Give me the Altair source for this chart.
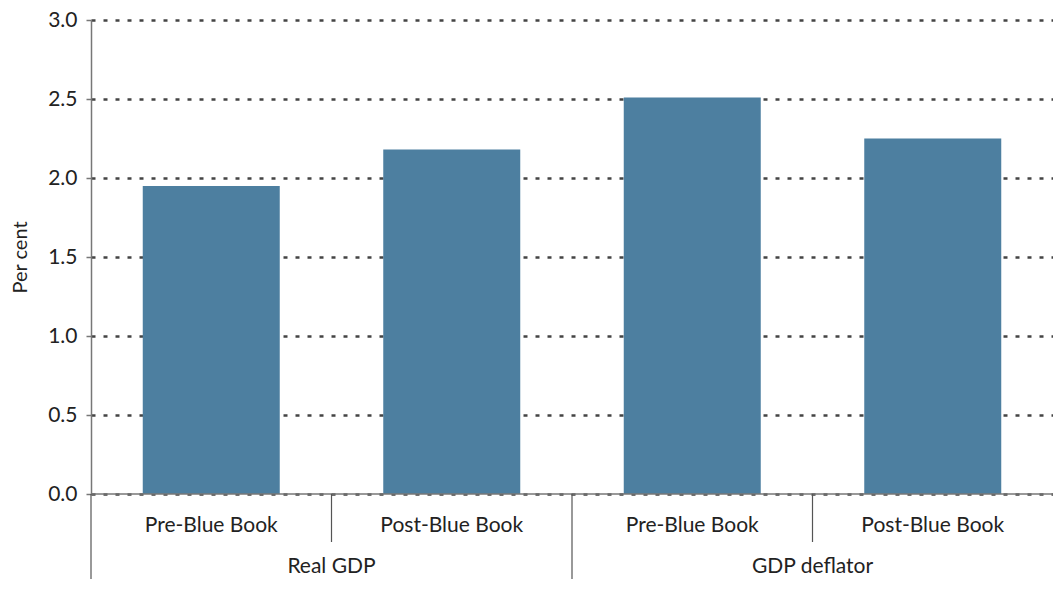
import altair as alt
import pandas as pd

groups = ["Real GDP", "Real GDP", "GDP deflator", "GDP deflator"]
subs = ["Pre-Blue Book", "Post-Blue Book", "Pre-Blue Book", "Post-Blue Book"]
values = [1.95, 2.18, 2.51, 2.25]

group_names = ["Real GDP", "GDP deflator"]
y_ticks = [0.0, 0.5, 1.0, 1.5, 2.0, 2.5, 3.0]

bars_df = pd.DataFrame({
    "group": groups,
    "sub": subs,
    "value": values,
    "pos": [i + 0.5 for i in range(len(values))],
})
group_df = pd.DataFrame({
    "group": group_names,
    "pos": [1.0, 3.0],
})
# boundaries between categories: 0,2 = group boundaries (long), 1,3 = sub boundaries (short)
long_sep = pd.DataFrame({"pos": [0.0, 2.0]})
short_sep = pd.DataFrame({"pos": [1.0, 3.0]})
base_df = pd.DataFrame({"a": [0.0], "b": [4.0], "y": [0.0]})

W, H = 962, 474
BOTTOM = 85
FONT = "Lato"
COLOR = "#4d7fa0"

xscale = alt.Scale(domain=[0, 4], nice=False, zero=False, padding=0)
yscale = alt.Scale(domain=[0, 3], nice=False)

bars = alt.Chart(bars_df).mark_bar(size=137, color=COLOR).encode(
    x=alt.X("pos:Q", scale=xscale, axis=None),
    y=alt.Y(
        "value:Q",
        scale=yscale,
        axis=alt.Axis(
            values=y_ticks,
            format=".1f",
            title="Per cent",
            titleFont=FONT,
            titleFontSize=20,
            titleFontWeight="normal",
            titleColor="#222",
            titleAngle=270,
            titleX=-71,
            titleY=237,
            titleAlign="center",
            titleBaseline="middle",
            labelFont=FONT,
            labelFontSize=21,
            labelColor="#222",
            labelPadding=9,
            tickSize=5,
            tickColor="#777",
            tickWidth=1.5,
            domainColor="#777",
            domainWidth=1.5,
            grid=True,
            gridColor="#444",
            gridDash=[4, 8],
            gridWidth=2.5,
        ),
    ),
)

baseline = alt.Chart(base_df).mark_rule(color="#777", strokeWidth=1.5).encode(
    x=alt.X("a:Q", scale=xscale), x2="b:Q", y=alt.Y("y:Q", scale=yscale)
)

long_rules = alt.Chart(long_sep).mark_rule(color="#555", strokeWidth=1.2).encode(
    x=alt.X("pos:Q", scale=xscale), y=alt.value(H), y2=alt.value(H + BOTTOM)
)
short_rules = alt.Chart(short_sep).mark_rule(color="#555", strokeWidth=1.2).encode(
    x=alt.X("pos:Q", scale=xscale), y=alt.value(H), y2=alt.value(H + 48)
)

sub_labels = alt.Chart(bars_df).mark_text(
    font=FONT, fontSize=21, color="#222", baseline="middle"
).encode(x=alt.X("pos:Q", scale=xscale), y=alt.value(H + 32), text="sub:N")

grp_labels = alt.Chart(group_df).mark_text(
    font=FONT, fontSize=21, color="#222", baseline="middle"
).encode(x=alt.X("pos:Q", scale=xscale), y=alt.value(H + 73), text="group:N")

chart = alt.layer(bars, baseline, long_rules, short_rules, sub_labels, grp_labels).properties(
    width=W,
    height=H,
    autosize=alt.AutoSizeParams(type="none"),
    padding={"left": 83, "top": 12, "right": 0, "bottom": BOTTOM},
).configure_view(stroke=None)

chart.save("out.html", embed_options={"renderer": "svg", "actions": False})
